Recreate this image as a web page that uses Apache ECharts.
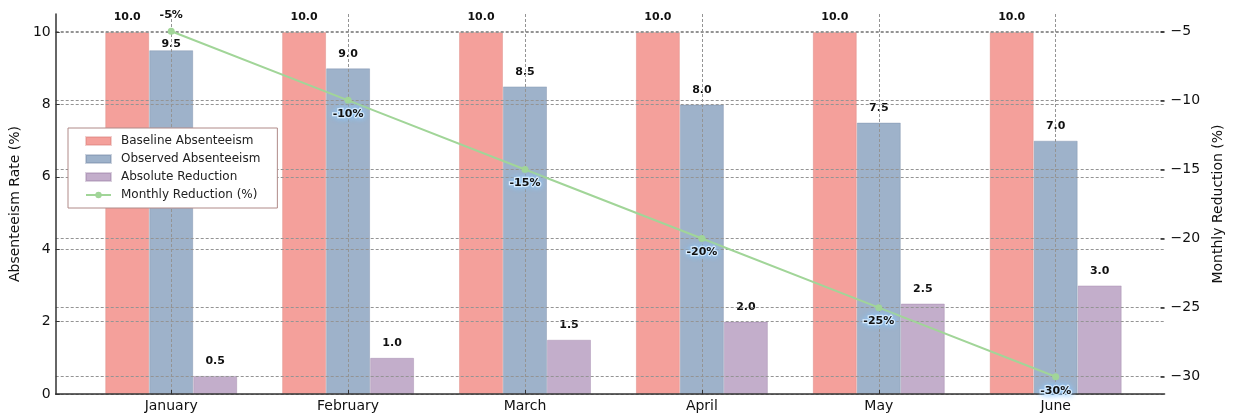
<!DOCTYPE html>
<html>
<head>
<meta charset="utf-8">
<script src="https://cdn.jsdelivr.net/npm/echarts@6/dist/echarts.min.js"></script>
<style>
  html, body { margin: 0; padding: 0; background: #fff; }
  #chart { width: 1233px; height: 414px; }
</style>
</head>
<body>
<div id="chart"></div>
<script>
// Monthly absenteeism data
const months = ['January', 'February', 'March', 'April', 'May', 'June'];
const baseline = [10.0, 10.0, 10.0, 10.0, 10.0, 10.0];
const observed = [9.5, 9.0, 8.5, 8.0, 7.5, 7.0];
const reduction = [0.5, 1.0, 1.5, 2.0, 2.5, 3.0];
const monthlyReduction = [-5, -10, -15, -20, -25, -30];

// Tick labels
const rateTicks = [0, 2, 4, 6, 8, 10];
const reductionTicks = [-30, -25, -20, -15, -10, -5];

const FONT = 'DejaVu Sans';
const rateRange = [0, 10.5];
const reductionRange = [-31.25, -3.75];

const gridLine = { show: true, lineStyle: { color: '#949494', width: 1, type: [3, 2] } };

const barLabel = {
  show: true, position: 'top', distance: 9,
  fontFamily: FONT, fontWeight: 'bold', fontSize: 11, color: '#111',
  formatter: p => p.value.toFixed(1)
};

function barSeries(name, values, color, border) {
  return {
    name, type: 'bar', xAxisIndex: 1, yAxisIndex: 2,
    barWidth: 44, barGap: '0%', z: 2,
    itemStyle: { color, borderColor: border, borderWidth: 1 },
    label: barLabel,
    emphasis: { disabled: true },
    data: values.map(v => v)
  };
}

const observedData = observed.map((v, i) => i === 0
  ? { value: v, label: { distance: 1 } } : v);

const chart = echarts.init(document.getElementById('chart'), null, { renderer: 'canvas' });

chart.setOption({
  animation: false,
  backgroundColor: '#ffffff',
  textStyle: { fontFamily: FONT },
  grid: [
    // frame grid: spines, y axes and horizontal grid lines
    { left: 54, right: 60, top: 14, bottom: 20 },
    // bar grid: category centres from January to June
    { left: 171.2, right: 177.3, top: 14, bottom: 20 }
  ],
  legend: {
    orient: 'vertical', left: 68, top: 128,
    padding: [7, 17, 7, 17], itemGap: 6,
    itemWidth: 25, itemHeight: 8,
    backgroundColor: '#ffffff', borderColor: '#b08a88', borderWidth: 1,
    textStyle: { fontFamily: FONT, fontSize: 12, color: '#222', padding: [0, 0, 0, 5] },
    data: [
      { name: 'Baseline Absenteeism', icon: 'rect' },
      { name: 'Observed Absenteeism', icon: 'rect' },
      { name: 'Absolute Reduction', icon: 'rect' },
      { name: 'Monthly Reduction (%)' }
    ]
  },
  xAxis: [
    {
      type: 'value', gridIndex: 0, min: 0, max: 1, z: 3,
      axisLine: { show: true, lineStyle: { color: '#333', width: 1.5 } },
      axisTick: { show: false }, axisLabel: { show: false }, splitLine: { show: false }
    },
    {
      type: 'category', gridIndex: 1, data: months, boundaryGap: false, z: 3,
      axisLine: { show: false },
      axisTick: { show: true, inside: true, length: 4, lineStyle: { color: '#333' } },
      axisLabel: { fontFamily: FONT, fontSize: 14, color: '#111', margin: 5 },
      splitLine: gridLine
    }
  ],
  yAxis: [
    {
      type: 'value', gridIndex: 0, position: 'left', z: 3,
      min: rateRange[0], max: rateRange[1],
      name: 'Absenteeism Rate (%)', nameLocation: 'middle', nameRotate: 90, nameGap: 27,
      nameTextStyle: { fontFamily: FONT, fontSize: 14, color: '#111' },
      axisLine: { show: true, lineStyle: { color: '#333', width: 1.5 } },
      axisTick: { show: true, inside: true, length: 4, customValues: rateTicks, lineStyle: { color: '#333' } },
      axisLabel: { fontFamily: FONT, fontSize: 14, color: '#111', margin: 5, customValues: rateTicks },
      splitLine: gridLine
    },
    {
      type: 'value', gridIndex: 0, position: 'right', z: 3,
      min: reductionRange[0], max: reductionRange[1],
      name: 'Monthly Reduction (%)', nameLocation: 'middle', nameRotate: 90, nameGap: 44,
      nameTextStyle: { fontFamily: FONT, fontSize: 14, color: '#111' },
      axisLine: { show: false },
      axisTick: { show: true, inside: true, length: 4, customValues: reductionTicks, lineStyle: { color: '#222', width: 1.5 } },
      axisLabel: {
        fontFamily: FONT, fontSize: 14, color: '#111', margin: 6, customValues: reductionTicks,
        formatter: v => String(v).replace('-', '\u2212')
      },
      splitLine: gridLine
    },
    {
      type: 'value', gridIndex: 1, min: rateRange[0], max: rateRange[1], show: false,
      splitLine: { show: false }
    },
    {
      type: 'value', gridIndex: 1, min: reductionRange[0], max: reductionRange[1], show: false,
      splitLine: { show: false }
    }
  ],
  series: [
    barSeries('Baseline Absenteeism', baseline, '#f4a09b', 'rgba(214,120,116,0.35)'),
    Object.assign(barSeries('Observed Absenteeism', observed, '#9eb2ca', 'rgba(110,130,160,0.35)'), { data: observedData }),
    barSeries('Absolute Reduction', reduction, '#c3aecb', 'rgba(150,120,160,0.35)'),
    {
      name: 'Monthly Reduction (%)', type: 'line', xAxisIndex: 1, yAxisIndex: 3, z: 5,
      symbol: 'circle', symbolSize: 7,
      lineStyle: { color: '#a1d598', width: 2 },
      itemStyle: { color: '#a1d598' },
      label: {
        show: true, position: 'bottom', distance: 5,
        fontFamily: FONT, fontWeight: 'bold', fontSize: 11, color: '#111',
        textBorderColor: 'rgba(232,244,255,0.95)', textBorderWidth: 2.5,
        textShadowColor: '#8cc8ff', textShadowBlur: 6,
        formatter: p => p.value + '%'
      },
      emphasis: { disabled: true },
      data: monthlyReduction.map((v, i) => i === 0
        ? { value: v, label: { position: 'top', distance: 7, textBorderWidth: 0, textShadowBlur: 0 } } : v)
    }
  ]
});
</script>
</body>
</html>
